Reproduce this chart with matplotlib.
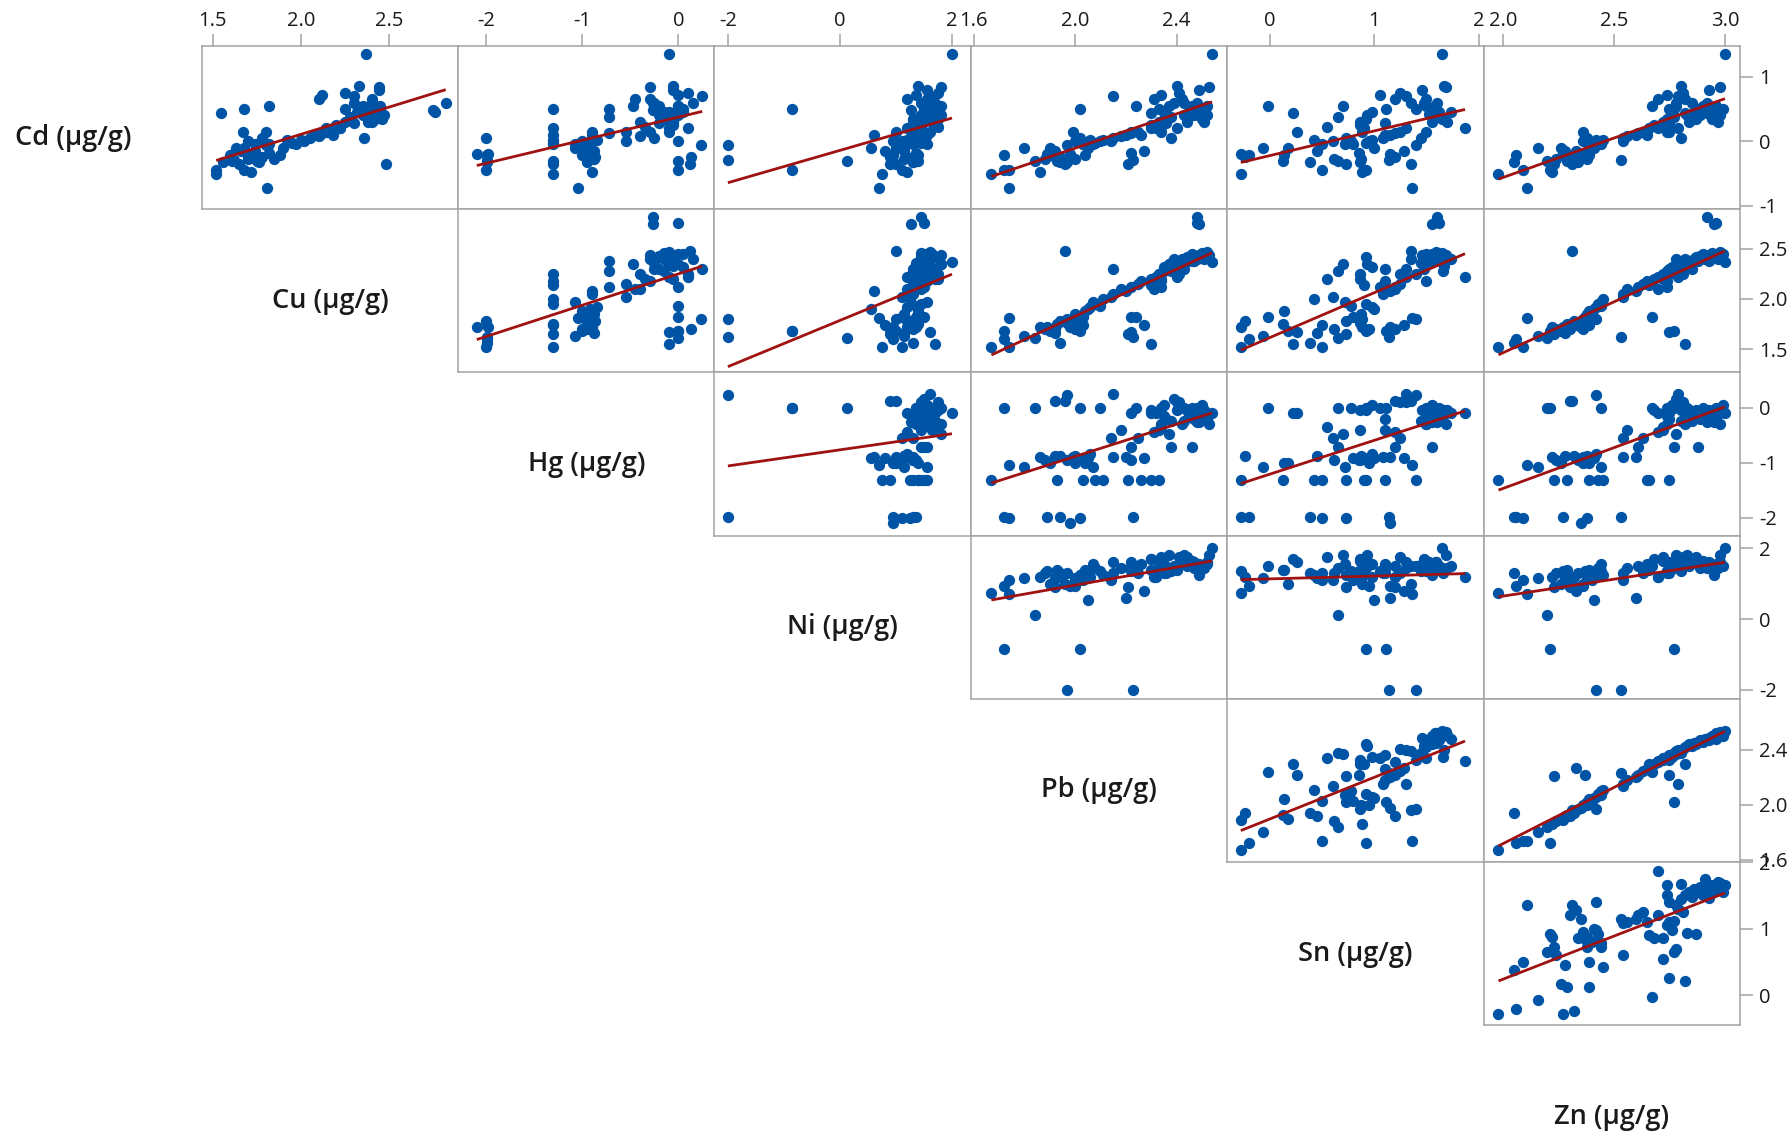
import numpy as np
import matplotlib
matplotlib.use("Agg")
import matplotlib.pyplot as plt

# Variable names (diagonal labels)
names = ["Cd (µg/g)", "Cu (µg/g)", "Hg (µg/g)", "Ni (µg/g)",
         "Pb (µg/g)", "Sn (µg/g)", "Zn (µg/g)"]

# Log-scale concentrations per sample
Cd = [-0.51, -0.32, -0.22, -0.73, -0.11, -0.30, -0.45, -0.48, -0.35, -0.28,
      -0.10, -0.20, -0.30, -0.25, -0.36, -0.24, -0.15, -0.32, -0.20, 0.14,
      -0.18, 0.05, -0.28, -0.05, -0.22, -0.10, -0.06, 0.02, -0.02, 0.00,
      -0.05, 0.02, -0.29, 0.05, 0.00, 0.08, 0.10, 0.12, 0.15, 0.10,
      0.20, 0.54, 0.25, 0.20, 0.30, 0.22, 0.35, 0.50, 0.28, 0.14,
      0.45, 0.50, 0.38, 0.55, 0.60, 0.70, 0.85, 0.05, 0.75, 0.43,
      0.65, 0.40, 0.30, 0.45, 0.35, 0.50, 0.40, 0.55, 0.45, 0.59,
      0.79, 0.35, 0.48, 0.45, 0.55, 0.30, 0.84, 0.40, 1.35, 0.50,
      -0.45, 0.15, 0.20, 0.60, 0.42, -0.05, 0.00, -0.15, 0.65, 0.72]
Cu = [1.52, 1.56, 1.60, 1.81, 1.63, 1.61, 1.68, 1.72, 1.65, 1.70,
      1.68, 1.72, 1.75, 1.70, 2.48, 1.78, 1.74, 1.76, 1.72, 1.80,
      1.82, 1.78, 1.85, 1.74, 1.88, 1.90, 1.80, 1.92, 1.95, 1.93,
      1.97, 2.00, 1.62, 2.05, 2.02, 2.10, 2.08, 2.12, 2.15, 2.18,
      2.14, 1.82, 2.20, 2.22, 2.25, 2.20, 2.28, 2.25, 2.30, 1.67,
      2.32, 1.68, 2.28, 2.35, 2.40, 2.30, 2.33, 2.36, 2.25, 1.55,
      2.40, 2.35, 2.38, 2.40, 2.42, 2.38, 2.43, 2.45, 2.40, 2.82,
      2.44, 2.46, 2.75, 2.76, 2.42, 2.40, 2.44, 2.47, 2.37, 2.45,
      1.52, 2.18, 2.22, 2.30, 2.38, 1.82, 1.70, 1.66, 2.10, 2.12]
Hg = [-1.31, -1.99, -1.99, -1.05, -1.08, 0.00, 0.00, -0.90, -1.31, -0.95,
      -1.00, -1.98, -1.31, 0.13, 0.12, -0.87, -0.92, -0.95, -2.10, -0.90,
      -0.95, -2.00, -0.88, -1.31, -1.00, -0.92, 0.24, -0.85, -1.31, 0.00,
      -1.08, -1.31, -1.99, -0.90, -0.55, -0.40, -0.90, -0.72, -0.55, -1.31,
      -1.31, 0.00, -0.05, -0.10, -0.40, -0.35, -0.15, -1.31, -0.20, -0.10,
      0.05, 0.00, -0.72, -0.47, 0.15, 0.25, -0.05, -0.25, 0.10, -0.10,
      -0.30, 0.00, -0.05, -0.15, -0.05, -0.72, -0.20, 0.00, -0.10, -0.26,
      -0.05, -0.15, -0.26, 0.00, -0.20, -0.05, -0.30, -0.10, -0.10, 0.05,
      -2.00, -0.30, 0.10, -0.25, -0.12, -0.92, -1.00, -0.88, -0.45, 0.00]
Ni = [0.75, 1.30, 0.95, 0.70, 1.15, 0.13, -0.85, 1.20, 0.90, 1.30,
      1.00, 1.35, 1.40, 0.90, 1.00, 1.20, 0.80, 1.30, 0.95, 1.00,
      1.35, 1.25, 1.15, 1.30, 1.40, 0.55, -2.00, 1.20, 1.45, 1.35,
      1.55, 1.25, -2.00, 1.30, 1.10, 1.45, 0.60, 1.50, 1.30, 1.55,
      1.40, 1.50, 1.70, 1.20, 1.65, 1.75, 1.30, 1.50, 1.30, 1.60,
      1.55, -0.85, 1.45, 1.80, 1.50, 1.60, 1.40, 1.35, 1.75, 1.70,
      1.55, 1.80, 1.50, 1.60, 1.75, 1.55, 1.45, 1.65, 1.50, 1.45,
      1.55, 1.45, 1.26, 1.50, 1.55, 1.45, 1.80, 1.60, 2.00, 1.50,
      1.10, 1.35, 1.45, 1.70, 1.60, 1.10, 0.95, 1.15, 1.20, 1.35]
Pb = [1.67, 1.94, 1.72, 1.74, 1.80, 1.84, 1.72, 1.86, 2.21, 1.88,
      1.90, 1.89, 1.93, 1.92, 1.96, 1.94, 2.27, 1.97, 1.98, 1.99,
      2.22, 2.02, 2.00, 2.03, 2.04, 2.05, 1.97, 2.06, 2.08, 2.10,
      2.07, 2.11, 2.23, 2.15, 2.14, 2.18, 2.20, 2.22, 2.25, 2.26,
      2.30, 2.24, 2.30, 2.32, 2.33, 2.34, 2.35, 2.33, 2.36, 2.22,
      2.35, 2.02, 2.38, 2.37, 2.39, 2.15, 2.40, 2.38, 2.41, 2.30,
      2.42, 2.43, 2.44, 2.45, 2.44, 2.46, 2.47, 2.46, 2.48, 2.48,
      2.49, 2.50, 2.49, 2.48, 2.52, 2.51, 2.53, 2.52, 2.54, 2.50,
      1.74, 2.34, 2.40, 2.43, 2.47, 2.03, 2.00, 1.92, 2.31, 2.34]
Sn = [-0.28, 0.38, -0.20, 1.36, -0.07, 0.65, 0.92, 0.88, 0.73, 0.61,
      0.17, -0.28, 0.12, 1.20, 1.35, -0.24, 1.28, 0.86, 1.15, 0.88,
      0.85, 0.73, 0.87, 0.50, 0.13, 1.00, 1.40, 0.98, 0.92, 0.78,
      0.72, 0.42, 1.14, 1.08, 0.60, 1.10, 1.15, 1.20, 1.25, 1.10,
      0.90, -0.02, 0.86, 1.87, 0.86, 0.55, 1.66, 1.40, 1.10, 0.26,
      0.98, 1.11, 0.65, 0.70, 1.35, 1.30, 1.67, 1.45, 1.25, 0.22,
      1.50, 0.93, 1.55, 1.59, 0.92, 1.55, 1.62, 1.50, 1.74, 1.60,
      1.46, 1.65, 1.55, 1.62, 1.58, 1.70, 1.69, 1.59, 1.65, 1.55,
      0.50, 1.50, 1.30, 1.48, 1.52, 0.80, 0.95, 0.45, 1.20, 1.05]
Zn = [1.98, 2.05, 2.06, 2.11, 2.16, 2.20, 2.21, 2.22, 2.23, 2.24,
      2.26, 2.27, 2.29, 2.30, 2.31, 2.32, 2.33, 2.34, 2.35, 2.36,
      2.37, 2.38, 2.38, 2.39, 2.39, 2.41, 2.42, 2.42, 2.43, 2.44,
      2.44, 2.45, 2.53, 2.54, 2.54, 2.56, 2.60, 2.61, 2.63, 2.65,
      2.66, 2.67, 2.68, 2.70, 2.72, 2.72, 2.74, 2.75, 2.75, 2.75,
      2.76, 2.77, 2.77, 2.78, 2.78, 2.79, 2.80, 2.80, 2.81, 2.82,
      2.82, 2.83, 2.84, 2.86, 2.87, 2.88, 2.89, 2.90, 2.91, 2.92,
      2.93, 2.94, 2.95, 2.96, 2.96, 2.97, 2.98, 2.98, 3.00, 2.99,
      2.09, 2.74, 2.79, 2.85, 2.93, 2.40, 2.36, 2.28, 2.70, 2.74]

variables = [Cd, Cu, Hg, Ni, Pb, Sn, Zn]

# Axis ranges: rows use variables 0..5 on y, columns use variables 1..6 on x
row_limits = [(-1.054, 1.476), (1.270, 2.893), (-2.325, 0.642),
              (-2.249, 2.359), (1.585, 2.772), (-0.45, 2.0)]
col_limits = [(1.438, 2.890), (-2.295, 0.377), (-2.24, 2.337),
              (1.589, 2.600), (-0.41, 2.048), (1.913, 3.068)]
row_ticks = [[-1, 0, 1], [1.5, 2.0, 2.5], [-2, -1, 0],
             [-2, 0, 2], [1.6, 2.0, 2.4], [0, 1, 2]]
row_ticklabels = [["-1", "0", "1"], ["1.5", "2.0", "2.5"], ["-2", "-1", "0"],
                  ["-2", "0", "2"], ["1.6", "2.0", "2.4"], ["0", "1", "2"]]
col_ticks = [[1.5, 2.0, 2.5], [-2, -1, 0], [-2, 0, 2],
             [1.6, 2.0, 2.4], [0, 1, 2], [2.0, 2.5, 3.0]]
col_ticklabels = [["1.5", "2.0", "2.5"], ["-2", "-1", "0"], ["-2", "0", "2"],
                  ["1.6", "2.0", "2.4"], ["0", "1", "2"], ["2.0", "2.5", "3.0"]]

plt.rcParams['font.family'] = ['Open Sans', 'DejaVu Sans']

W, H = 1789, 1138
fig = plt.figure(figsize=(W / 100, H / 100), dpi=100)
fig.patch.set_facecolor("white")

gx0, gx1 = 201.7, 1740.0
gy0, gy1 = 46.0, 1025.2
cw = (gx1 - gx0) / 6
rh = (gy1 - gy0) / 6

frame_col = "#A3A3A3"
dot_col = "#0054A6"
fit_col = "#A01212"
text_col = "#1A1A1A"

for i in range(6):
    for j in range(i, 6):
        left = (gx0 + j * cw) / W
        bottom = 1 - (gy0 + (i + 1) * rh) / H
        ax = fig.add_axes([left, bottom, cw / W, rh / H])
        x = np.asarray(variables[j + 1], dtype=float)
        y = np.asarray(variables[i], dtype=float)
        ax.scatter(x, y, s=66, color=dot_col, linewidths=0, zorder=2)
        k, b = np.polyfit(x, y, 1)
        xs = np.array([x.min(), x.max()])
        ax.plot(xs, k * xs + b, color=fit_col, lw=2.0, zorder=3,
                solid_capstyle="butt")
        ax.set_xlim(*col_limits[j])
        ax.set_ylim(*row_limits[i])
        for sp in ax.spines.values():
            sp.set_color(frame_col)
            sp.set_linewidth(1.1)
        ax.set_xticks([])
        ax.set_yticks([])
        if i == 0:
            ax.xaxis.tick_top()
            ax.set_xticks(col_ticks[j])
            ax.set_xticklabels(col_ticklabels[j])
            ax.tick_params(axis="x", direction="out", length=9, width=1.1,
                           color=frame_col, labelsize=14.5, pad=2,
                           labelcolor=text_col)
        if j == 5:
            ax.yaxis.tick_right()
            ax.set_yticks(row_ticks[i])
            ax.set_yticklabels(row_ticklabels[i])
            ax.tick_params(axis="y", direction="out", length=9, width=1.1,
                           color=frame_col, labelsize=14.5, pad=5,
                           labelcolor=text_col)

# Diagonal variable labels
for i, name in enumerate(names):
    cx = gx0 + (i - 0.5) * cw
    cy = gy0 + (i + 0.5) * rh + 10
    fig.text(cx / W, 1 - cy / H, name, ha="center", va="center",
             fontsize=19.5, fontweight="semibold", color=text_col)

fig.savefig("out.png", dpi=100, facecolor="white")
